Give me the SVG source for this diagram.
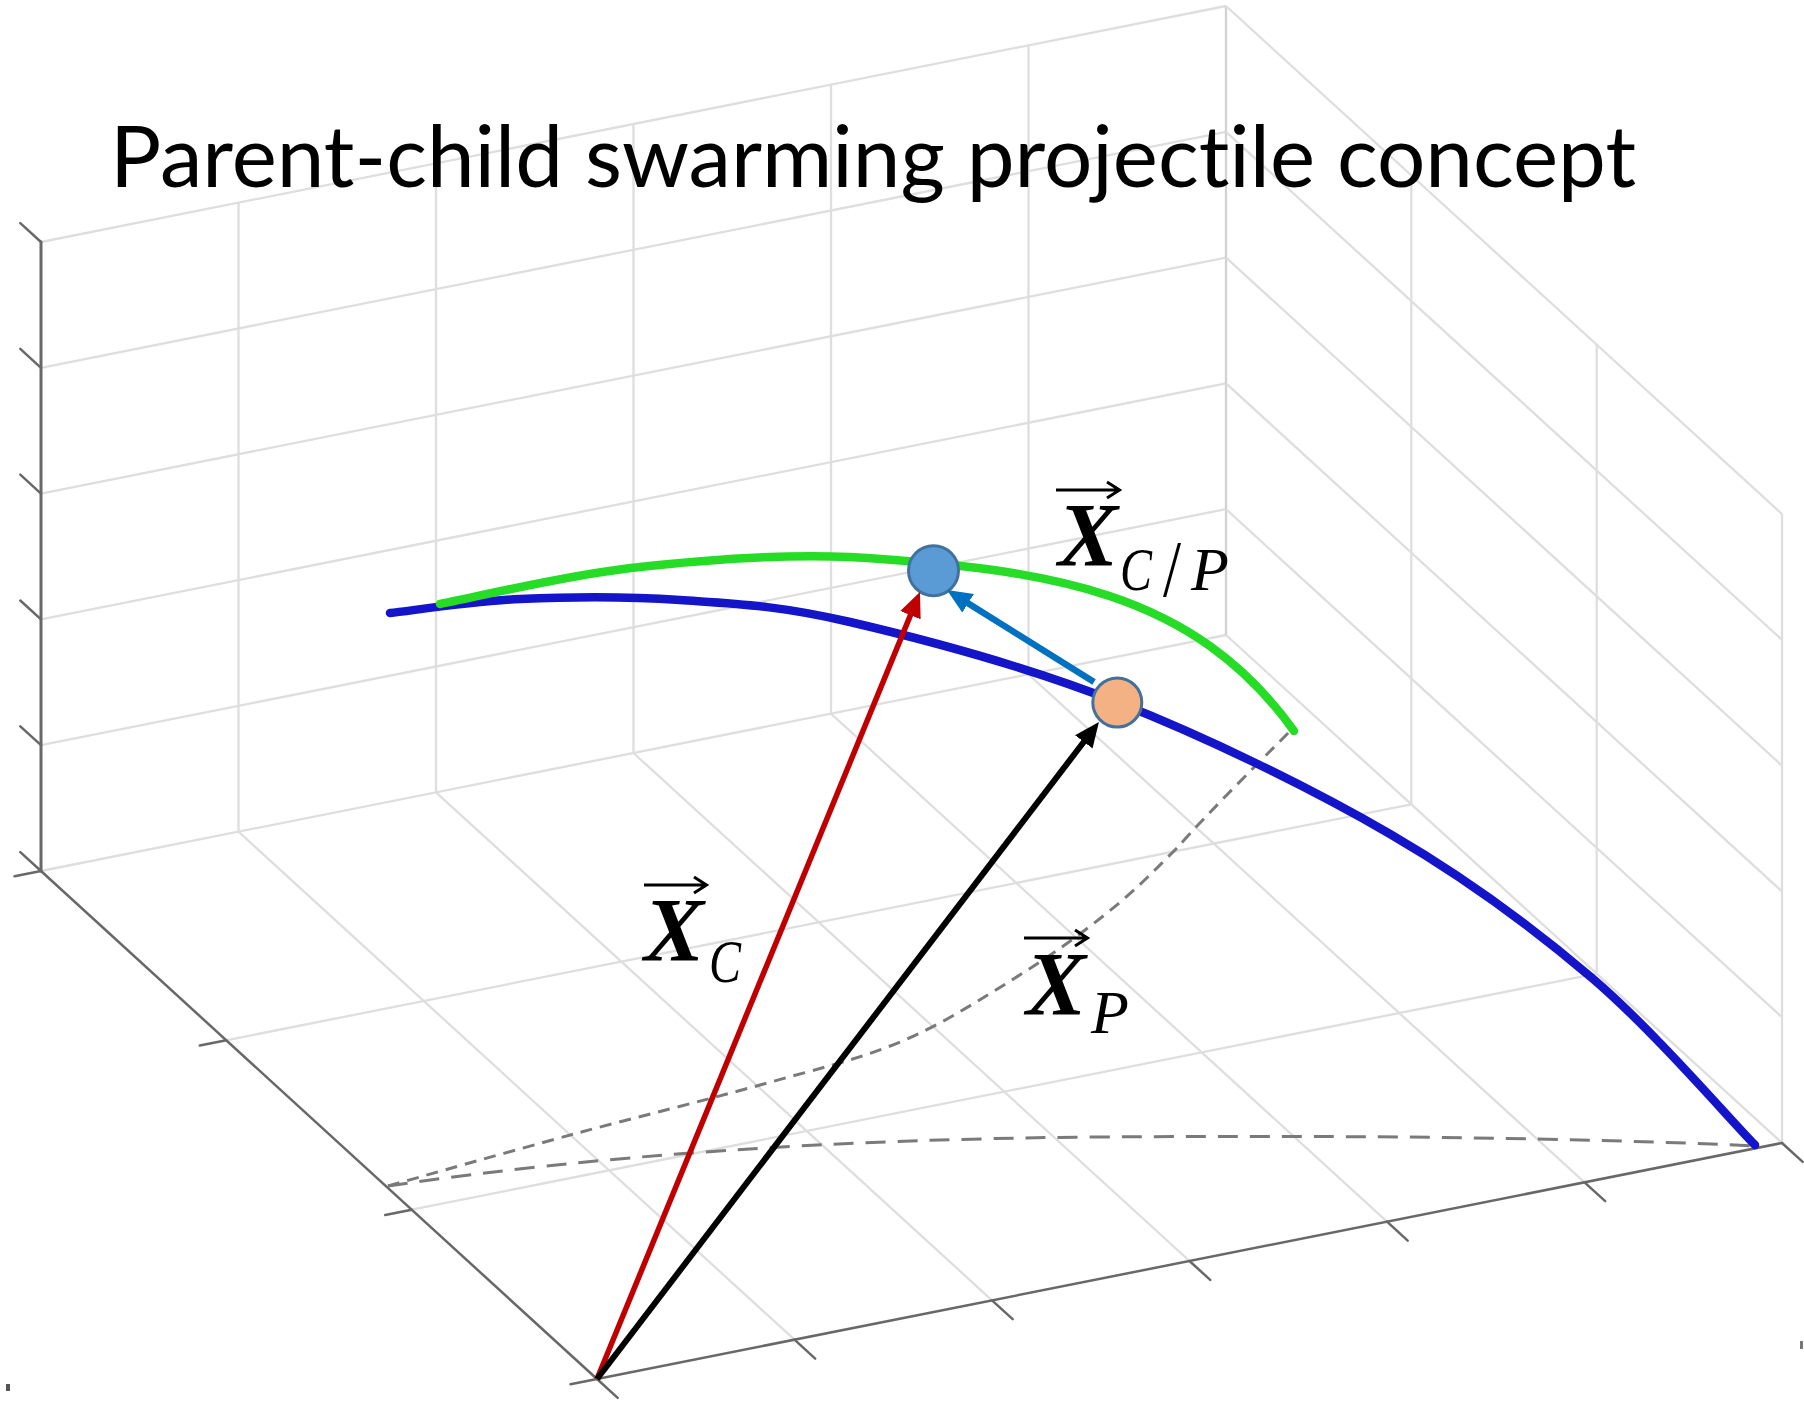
<svg xmlns="http://www.w3.org/2000/svg" width="1804" height="1402" viewBox="0 0 1804 1402">
<style>
.grid line{stroke:#dedede;stroke-width:2.3}
.axis line{stroke:#686868;stroke-width:2.5;stroke-linecap:round}
.track{fill:none;stroke:#7a7a7a;stroke-width:3}
.traj{fill:none;stroke-width:8.5;stroke-linecap:round}
.lbl{font-family:"Liberation Serif","Times New Roman",serif;fill:#000}
.X{font-weight:bold;font-style:italic;font-size:90px}
.sub{font-style:italic;font-size:62px}
.slash{font-size:80px}
.acc{stroke:#000;stroke-width:3;fill:none}
.title{font-family:Lato,"Open Sans","Liberation Sans",sans-serif;font-size:86px;fill:#000;font-variant-ligatures:none;font-feature-settings:"liga" 0,"clig" 0}
</style>
<defs>
<marker id="hRed" markerUnits="userSpaceOnUse" viewBox="0 0 25 22" markerWidth="25" markerHeight="22" refX="3" refY="11" orient="auto"><path d="M0,0 L25,11 L0,22 z" fill="#C00000"/></marker>
<marker id="hBlack" markerUnits="userSpaceOnUse" viewBox="0 0 25 22" markerWidth="25" markerHeight="22" refX="3" refY="11" orient="auto"><path d="M0,0 L25,11 L0,22 z" fill="#000000"/></marker>
<marker id="hBlue" markerUnits="userSpaceOnUse" viewBox="0 0 25 22" markerWidth="25" markerHeight="22" refX="3" refY="11" orient="auto"><path d="M0,0 L25,11 L0,22 z" fill="#0070C0"/></marker>
</defs>
<rect width="1804" height="1402" fill="#ffffff"/>
<g id="grid" class="grid">
<line x1="41" y1="871" x2="1226" y2="635"/>
<line x1="41" y1="745.2" x2="1226" y2="509.2"/>
<line x1="41" y1="619.4" x2="1226" y2="383.4"/>
<line x1="41" y1="493.6" x2="1226" y2="257.6"/>
<line x1="41" y1="367.8" x2="1226" y2="131.8"/>
<line x1="41" y1="242" x2="1226" y2="6"/>
<line x1="238.5" y1="831.7" x2="238.5" y2="202.7"/>
<line x1="436" y1="792.3" x2="436" y2="163.3"/>
<line x1="633.5" y1="753" x2="633.5" y2="124"/>
<line x1="831" y1="713.7" x2="831" y2="84.7"/>
<line x1="1028.5" y1="674.3" x2="1028.5" y2="45.3"/>
<line x1="1226" y1="635" x2="1226" y2="6" style="stroke:#d2d2d2"/>
<line x1="1226" y1="635" x2="1782" y2="1143"/>
<line x1="1226" y1="509.2" x2="1782" y2="1017.2"/>
<line x1="1226" y1="383.4" x2="1782" y2="891.4"/>
<line x1="1226" y1="257.6" x2="1782" y2="765.6"/>
<line x1="1226" y1="131.8" x2="1782" y2="639.8"/>
<line x1="1226" y1="6" x2="1782" y2="514"/>
<line x1="1411.3" y1="804.3" x2="1411.3" y2="175.3"/>
<line x1="1596.7" y1="973.7" x2="1596.7" y2="344.7"/>
<line x1="1782" y1="1143" x2="1782" y2="514"/>
<line x1="794.5" y1="1339.7" x2="238.5" y2="831.7"/>
<line x1="992" y1="1300.3" x2="436" y2="792.3"/>
<line x1="1189.5" y1="1261" x2="633.5" y2="753"/>
<line x1="1387" y1="1221.7" x2="831" y2="713.7"/>
<line x1="1584.5" y1="1182.3" x2="1028.5" y2="674.3"/>
<line x1="411.7" y1="1209.7" x2="1596.7" y2="973.7"/>
<line x1="226.3" y1="1040.3" x2="1411.3" y2="804.3"/>
</g>
<g id="axes" class="axis">
<line x1="41" y1="871" x2="41" y2="242" style="stroke-width:3"/>
<line x1="41" y1="871" x2="597" y2="1379"/>
<line x1="597" y1="1379" x2="1782" y2="1143"/>
<line x1="41" y1="871" x2="20.3" y2="852.1"/>
<line x1="41" y1="745.2" x2="20.3" y2="726.3"/>
<line x1="41" y1="619.4" x2="20.3" y2="600.5"/>
<line x1="41" y1="493.6" x2="20.3" y2="474.7"/>
<line x1="41" y1="367.8" x2="20.3" y2="348.9"/>
<line x1="41" y1="242" x2="20.3" y2="223.1"/>
<line x1="597" y1="1379" x2="570.5" y2="1384.3"/>
<line x1="411.7" y1="1209.7" x2="385.2" y2="1215"/>
<line x1="226.3" y1="1040.3" x2="199.8" y2="1045.6"/>
<line x1="41" y1="871" x2="14.5" y2="876.3"/>
<line x1="597" y1="1379" x2="617.7" y2="1397.9"/>
<line x1="794.5" y1="1339.7" x2="815.2" y2="1358.6"/>
<line x1="992" y1="1300.3" x2="1012.7" y2="1319.2"/>
<line x1="1189.5" y1="1261" x2="1210.2" y2="1279.9"/>
<line x1="1387" y1="1221.7" x2="1407.7" y2="1240.6"/>
<line x1="1584.5" y1="1182.3" x2="1605.2" y2="1201.2"/>
<line x1="1782" y1="1143" x2="1802.7" y2="1161.9"/>
<rect x="6" y="1384" width="4" height="7" fill="#555" stroke="none"/>
<rect x="1800" y="1341" width="3" height="8" fill="#777" stroke="none"/>
</g>
<g id="ground-tracks">
<path class="track" stroke-dasharray="20 12" d="M388,1186 Q700,1140 1100,1137 Q1500,1134 1755,1146"/>
<path class="track" stroke-dasharray="12 8" d="M388,1186 C419,1177.3 512,1150.8 574,1134 C636,1117.2 705.7,1100.3 760,1085 C814.3,1069.7 857.5,1059.8 900,1042 C942.5,1024.2 980.5,999.5 1015,978 C1049.5,956.5 1080,934.7 1107,913 C1134,891.3 1146.2,878.7 1177,848 C1207.8,812.7 1272.8,748.8 1292,729"/>
</g>
<g id="trajectories">
<path id="parent-trajectory" class="traj" stroke="#1414c8" d="M390,613 C411.7,610.7 471.7,601.2 520,599 C568.3,596.8 625,596.2 680,600 C735,603.8 777.2,605 850,622 C922.8,639 1027,666.7 1117,702 C1207,737.3 1310.8,788 1390,834 C1469.2,880 1531.2,926.2 1592,978 C1652.8,1029.8 1727.8,1117.2 1755,1145"/>
<path id="child-trajectory" class="traj" stroke="#26dc26" d="M440,604 C471.8,598 562.7,575.8 631,568 C699.3,560.2 782.7,554 850,557 C1050,569 1194,591 1294,731"/>
</g>
<g id="node-child"><circle cx="933.5" cy="570.7" r="25" fill="#5B9BD5" stroke="#41719C" stroke-width="3"/></g>
<g id="node-parent"><circle cx="1117.3" cy="702.5" r="24.5" fill="#F4B183" stroke="#41719C" stroke-width="3"/></g>
<g id="connectors" fill="none" stroke-linecap="butt">
<line id="vec-XC" x1="597" y1="1379" x2="911.6" y2="612.4" stroke="#C00000" stroke-width="5.5" marker-end="url(#hRed)"/>
<line id="vec-XP" x1="597" y1="1379" x2="1085.6" y2="739.5" stroke="#000000" stroke-width="6" marker-end="url(#hBlack)"/>
<line id="vec-XCP" x1="1094" y1="682" x2="965.6" y2="601.7" stroke="#0070C0" stroke-width="6.5" marker-end="url(#hBlue)"/>
</g>
<g id="label-XCP" class="lbl">
<path class="acc" d="M1056,490 H1119 M1107,482 L1119.5,490 L1107,498"/>
<text class="X" x="1058" y="566">X</text>
<text class="sub" x="1120" y="590" textLength="32" lengthAdjust="spacingAndGlyphs">C</text>
<text class="slash" x="1163" y="596" textLength="18" lengthAdjust="spacingAndGlyphs">/</text>
<text class="sub" x="1191" y="590">P</text>
</g>
<g id="label-XC" class="lbl">
<path class="acc" d="M644,885 H706 M694,877 L706.5,885 L694,893"/>
<text class="X" x="644" y="961">X</text>
<text class="sub" x="709" y="982" textLength="32" lengthAdjust="spacingAndGlyphs">C</text>
</g>
<g id="label-XP" class="lbl">
<path class="acc" d="M1024,938 H1087 M1075,930 L1087.5,938 L1075,946"/>
<text class="X" x="1026" y="1015">X</text>
<text class="sub" x="1091" y="1033">P</text>
</g>
<text id="title" class="title" x="110" y="187" textLength="1526" lengthAdjust="spacingAndGlyphs">Parent-child swarming projectile concept</text>
</svg>
